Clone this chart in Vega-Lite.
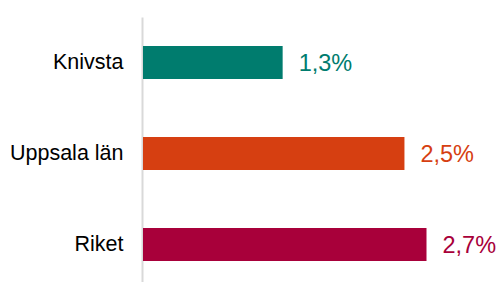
{
  "$schema": "https://vega.github.io/schema/vega-lite/v6.json",
  "width": 357,
  "height": 273,
  "autosize": "none",
  "padding": {"left": 143, "top": 17, "right": 0, "bottom": 0},
  "background": "white",
  "data": {
    "values": [
      {"region": "Knivsta", "value": 1.33, "label": "1,3%"},
      {"region": "Uppsala län", "value": 2.49, "label": "2,5%"},
      {"region": "Riket", "value": 2.7, "label": "2,7%"}
    ]
  },
  "encoding": {
    "y": {
      "field": "region",
      "type": "nominal",
      "sort": null,
      "scale": {"paddingInner": 0.637, "paddingOuter": 0.3185},
      "axis": {
        "title": null,
        "ticks": false,
        "labelPadding": 19,
        "labelFontSize": 21.5,
        "labelFont": "Liberation Sans",
        "labelColor": "#000000",
        "domainColor": "#d9d9d9",
        "domainWidth": 2,
        "offset": 1,
        "grid": false
      }
    },
    "x": {
      "field": "value",
      "type": "quantitative",
      "scale": {"domain": [0, 3.4]},
      "axis": null
    },
    "color": {
      "field": "region",
      "type": "nominal",
      "scale": {
        "domain": ["Knivsta", "Uppsala län", "Riket"],
        "range": ["#007C6E", "#D63F11", "#A8003A"]
      },
      "legend": null
    }
  },
  "layer": [
    {"mark": {"type": "bar"}},
    {
      "mark": {"type": "text", "align": "left", "baseline": "middle", "dx": 16, "dy": 1, "fontSize": 23.5, "font": "Liberation Sans"},
      "encoding": {"text": {"field": "label"}}
    }
  ],
  "config": {"view": {"stroke": null}}
}
